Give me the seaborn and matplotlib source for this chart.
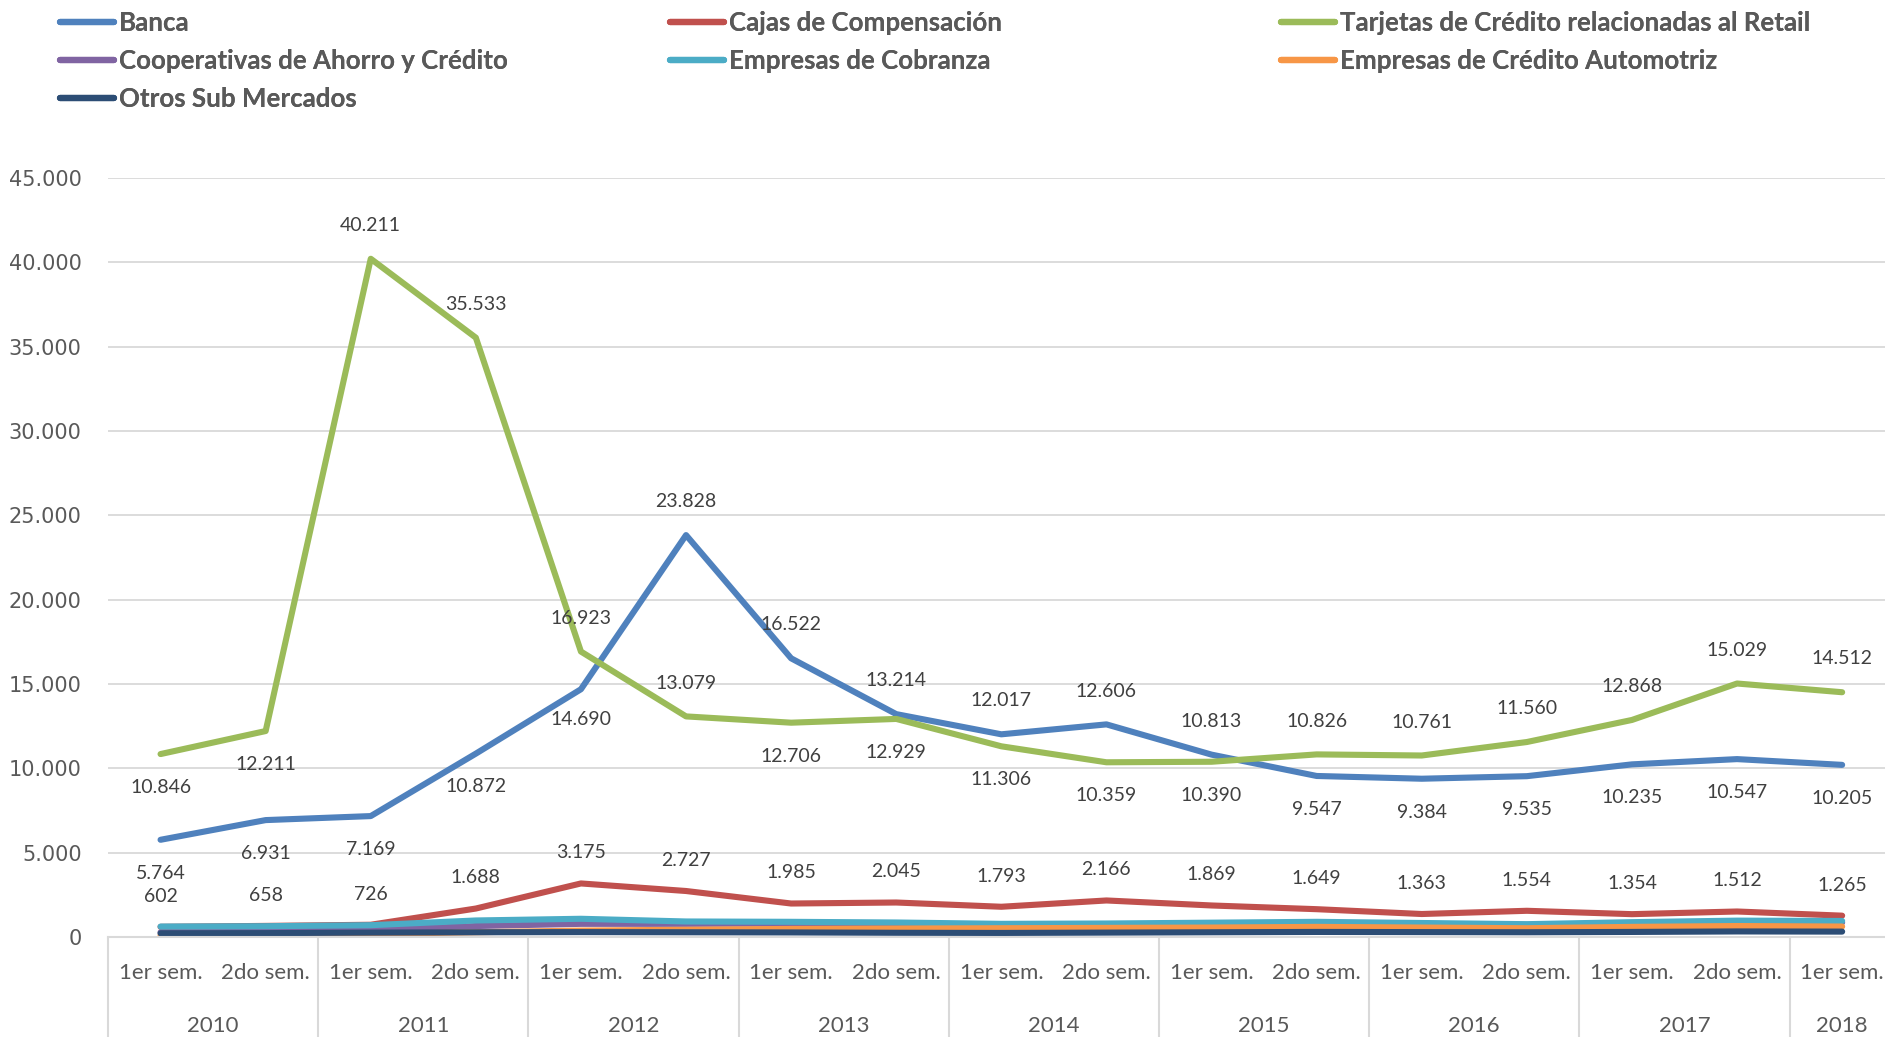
import matplotlib
matplotlib.use("Agg")
import matplotlib.pyplot as plt
import matplotlib.transforms as mtransforms
from matplotlib.lines import Line2D
import seaborn as sns
import pandas as pd

# ---- data -------------------------------------------------------------
years = ["2010", "2011", "2012", "2013", "2014", "2015", "2016", "2017", "2018"]
semesters = ["1er sem.", "2do sem."] * 8 + ["1er sem."]

banca = [5764, 6931, 7169, 10872, 14690, 23828, 16522, 13214, 12017, 12606,
         10813, 9547, 9384, 9535, 10235, 10547, 10205]
cajas = [602, 658, 726, 1688, 3175, 2727, 1985, 2045, 1793, 2166,
         1869, 1649, 1363, 1554, 1354, 1512, 1265]
tarjetas = [10846, 12211, 40211, 35533, 16923, 13079, 12706, 12929, 11306, 10359,
            10390, 10826, 10761, 11560, 12868, 15029, 14512]
cooperativas = [280, 300, 420, 650, 780, 780, 800, 780, 720, 740,
                780, 820, 780, 720, 800, 880, 860]
cobranza = [620, 640, 700, 980, 1080, 920, 900, 860, 780, 800,
            850, 900, 830, 760, 880, 970, 950]
automotriz = [100, 120, 180, 280, 380, 430, 480, 500, 520, 540,
              560, 600, 560, 520, 600, 650, 620]
otros = [220, 230, 260, 280, 290, 280, 270, 250, 240, 260,
         280, 300, 290, 280, 300, 330, 320]

series_names = ["Banca", "Cajas de Compensación",
                "Tarjetas de Crédito relacionadas al Retail",
                "Cooperativas de Ahorro y Crédito", "Empresas de Cobranza",
                "Empresas de Crédito Automotriz", "Otros Sub Mercados"]
series_values = [banca, cajas, tarjetas, cooperativas, cobranza, automotriz, otros]

colors = {
    "Banca": "#4F81BD",
    "Cajas de Compensación": "#C0504D",
    "Tarjetas de Crédito relacionadas al Retail": "#9BBB59",
    "Cooperativas de Ahorro y Crédito": "#8064A2",
    "Empresas de Cobranza": "#4BACC6",
    "Empresas de Crédito Automotriz": "#F79646",
    "Otros Sub Mercados": "#2C4D75",
}

n = len(banca)
rows = []
for name, vals in zip(series_names, series_values):
    for i, v in enumerate(vals):
        rows.append({"idx": i, "valor": v, "serie": name})
df = pd.DataFrame(rows)

# ---- figure -----------------------------------------------------------
sns.set_theme(style="white")
plt.rcParams["font.family"] = ["Lato", "DejaVu Sans"]

W, H = 1885, 1037
fig = plt.figure(figsize=(W / 100, H / 100), dpi=100)
ax_left, ax_bottom = 108 / W, 100 / H
ax_w, ax_h = 17 * 105.1 / W, 759 / H
ax = fig.add_axes([ax_left, ax_bottom, ax_w, ax_h])

sns.lineplot(data=df, x="idx", y="valor", hue="serie", hue_order=series_names,
             palette=colors, linewidth=4.4, sort=False, legend=False, ax=ax,
             solid_capstyle="round")

ax.set_xlim(-0.5, 16.5)
ax.set_ylim(0, 45000)
ax.set_yticks(range(0, 45001, 5000))
ax.set_yticklabels([f"{v:,}".replace(",", ".") for v in range(0, 45001, 5000)],
                   fontfamily="DejaVu Sans", fontsize=15, color="#595959")
ax.tick_params(axis="y", length=0, pad=19)
ax.set_xticks([])
ax.set_xlabel("")
ax.set_ylabel("")
ax.grid(axis="y", color="#D9D9D9", linewidth=1.3)
ax.set_axisbelow(True)
for side in ["left", "right", "top"]:
    ax.spines[side].set_visible(False)
ax.spines["bottom"].set_color("#D9D9D9")
ax.spines["bottom"].set_linewidth(1.5)

# ---- category axis (semester + year) ------------------------------------
trans = mtransforms.blended_transform_factory(ax.transData, ax.transAxes)
for i, s in enumerate(semesters):
    ax.annotate(s, xy=(i, 0), xycoords=trans, xytext=(0, -26),
                textcoords="offset points", ha="center", va="center",
                fontsize=16, color="#595959", annotation_clip=False)
for k, y in enumerate(years):
    start = -0.5 + 2 * k
    end = min(start + 2, n - 0.5)
    ax.annotate(y, xy=((start + end) / 2, 0), xycoords=trans, xytext=(0, -64),
                textcoords="offset points", ha="center", va="center",
                fontsize=16, color="#595959", annotation_clip=False)
for k in range(len(years) + 1):
    xb = -0.5 + 2 * k
    ax.plot([xb, xb], [0, -0.2], transform=trans, color="#D9D9D9",
            linewidth=1.5, clip_on=False)

# ---- data labels --------------------------------------------------------
banca_pos = [-24, -24, -24, -24, -22, 24, 24, 24, 24, 24, 24,
             -24, -24, -24, -24, -24, -24]
tarjetas_pos = [-24, -24, 24, 24, 24, 24, -24, -24, -24, -24, -24,
                24, 24, 24, 24, 24, 24]
cajas_pos = [22] * n


def fmt(v):
    return f"{v:,}".replace(",", ".")


for vals, offs in [(banca, banca_pos), (tarjetas, tarjetas_pos), (cajas, cajas_pos)]:
    for i, (v, off) in enumerate(zip(vals, offs)):
        ax.annotate(fmt(v), xy=(i, v), xytext=(0, off), textcoords="offset points",
                    ha="center", va="center", fontsize=14, color="#404040",
                    annotation_clip=False)

# ---- legend -------------------------------------------------------------
legend_cols = [
    (60 / W, ["Banca", "Cooperativas de Ahorro y Crédito", "Otros Sub Mercados"]),
    (670 / W, ["Cajas de Compensación", "Empresas de Cobranza"]),
    (1281 / W, ["Tarjetas de Crédito relacionadas al Retail",
                "Empresas de Crédito Automotriz"]),
]
for xa, names in legend_cols:
    handles = [Line2D([0], [0], color=colors[nm], linewidth=4.5,
                      solid_capstyle="round") for nm in names]
    leg = fig.legend(handles, names, loc="upper left",
                     bbox_to_anchor=(xa, 1 - 11 / H), frameon=False,
                     prop={"family": "Lato", "weight": "bold", "size": 18.6},
                     handlelength=2.1, handletextpad=0.17, labelspacing=0.55,
                     borderaxespad=0, borderpad=0, labelcolor="#595959")
    fig.add_artist(leg)

fig.savefig("out.png", dpi=100)
